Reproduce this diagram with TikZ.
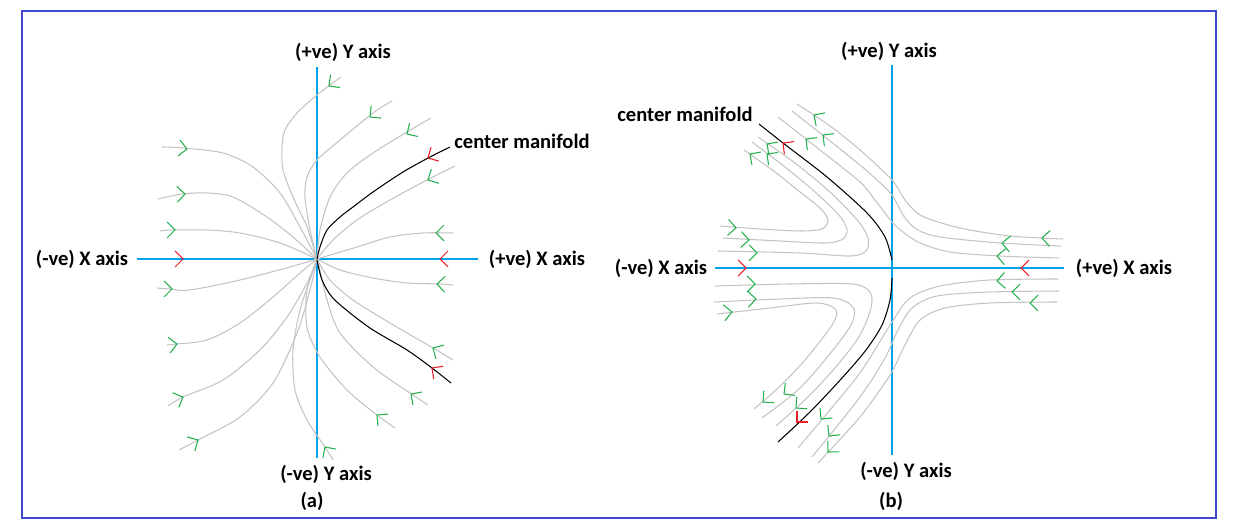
\documentclass[tikz,border=0pt]{standalone}
\usepackage{fontspec}
\setmainfont{Carlito}
\definecolor{axisblue}{RGB}{0,162,232}
\definecolor{frameblue}{RGB}{63,72,204}
\definecolor{trajgray}{RGB}{195,195,195}
\definecolor{tipgreen}{RGB}{34,177,76}
\definecolor{tipred}{RGB}{237,28,36}
\newcommand{\chev}[3][tipgreen]{\draw[#1, line width=0.6pt] (#2) ++(#3+135:6.4pt) -- (#2) -- ++(#3-135:6.4pt);}

\begin{document}
\begin{tikzpicture}[
  x=0.02cm, y=-0.02cm,
  lbl/.style={font=\bfseries\fontsize{11.7}{14}\selectfont, inner sep=0pt},
  axisline/.style={draw=axisblue, line width=0.9pt},
  traj/.style={draw=trajgray, line width=0.6pt},
  manifold/.style={draw=black, line width=0.6pt}
]
\useasboundingbox (0,0) rectangle (1234,526);
\draw[frameblue, line width=1.1pt] (22,11) rectangle (1216,518);

\node[lbl] (yposa) at (343,52) {(+ve) Y axis};
\node[lbl] (ynega) at (326,474) {(-ve) Y axis};
\node[lbl] (capa) at (312,501) {(a)};
\node[lbl] (xnega) at (82,259) {(-ve) X axis};
\node[lbl] (xposa) at (537,259) {(+ve) X axis};
\node[lbl] (cma) at (522,141) {center manifold};

\coordinate (oa) at (317,259);
\coordinate (atop) at (317,67);
\coordinate (abot) at (317,458);
\coordinate (aleft) at (137,259);
\coordinate (aright) at (478,259);
\draw[axisline] (atop) -- (abot);
\draw[axisline] (aleft) -- (aright);

\draw[traj] plot[smooth] coordinates {(341,77) (317,95) (297,113) (285,130) (282,147) (283,170) (293,197) (307,227) (317,259)};
\draw[traj] plot[smooth] coordinates {(392,101) (373,113) (340,140) (317,160) (307,177) (305,197) (310,230) (317,259)};
\draw[traj] plot[smooth] coordinates {(431,118) (407,132) (373,153) (347,173) (330,197) (320,230) (317,259)};
\draw[traj] plot[smooth] coordinates {(455,166) (427,180) (390,200) (357,220) (333,240) (317,259)};
\draw[traj] plot[smooth] coordinates {(453,233) (423,233) (390,237) (357,247) (317,259)};
\draw[traj] plot[smooth] coordinates {(453,285) (440,284) (407,283) (373,278) (340,270) (317,259)};
\draw[traj] plot[smooth] coordinates {(453,360) (433,348) (390,323) (353,300) (330,280) (317,259)};
\draw[traj] plot[smooth] coordinates {(428,405) (410,393) (373,367) (340,333) (327,300) (320,270) (317,259)};
\draw[traj] plot[smooth] coordinates {(395,428) (377,415) (347,390) (320,357) (307,327) (307,290) (317,259)};
\draw[traj] plot[smooth] coordinates {(333,460) (325,447) (307,420) (295,390) (293,350) (300,310) (310,280) (317,259)};
\draw[traj] plot[smooth] coordinates {(179,450) (198,440) (240,417) (273,383) (297,333) (310,290) (317,259)};
\draw[traj] plot[smooth] coordinates {(168,406) (183,397) (223,380) (260,350) (287,317) (307,283) (317,259)};
\draw[traj] plot[smooth] coordinates {(167,345) (177,344) (207,340) (240,323) (273,297) (300,273) (317,259)};
\draw[traj] plot[smooth] coordinates {(157,288) (170,289) (190,290) (240,280) (290,267) (317,259)};
\draw[traj] plot[smooth] coordinates {(160,231) (173,230) (207,230) (240,233) (280,243) (317,259)};
\draw[traj] plot[smooth] coordinates {(158,199) (182,194) (207,193) (233,197) (267,217) (293,237) (317,259)};
\draw[traj] plot[smooth] coordinates {(162,147) (183,148) (223,153) (253,167) (280,193) (300,227) (317,259)};
\draw[manifold] plot[smooth] coordinates {(450,147) (430,157) (403,172) (373,192) (353,207) (340,217) (327,230) (320,247) (317,259)};
\draw[manifold] plot[smooth] coordinates {(451,383) (432,368) (407,350) (373,330) (350,313) (332,297) (322,280) (317,260)};

\chev{329,86}{217} \chev{370,117}{219} \chev{407,134}{212} \chev{428,180}{208}
\chev{436,233}{180} \chev{437,284}{178} \chev{433,348}{150} \chev{411,394}{145}
\chev{377,415}{140} \chev{325,447}{124} \chev{198,440}{29} \chev{183,397}{23}
\chev{177,344}{8} \chev{172,289}{0} \chev{175,230}{0} \chev{185,194}{2} \chev{187,149}{-7}
\chev[tipred]{428,158}{209} \chev[tipred]{432,368}{144}
\chev[tipred]{183,259}{0} \chev[tipred]{440,259}{180}

\node[lbl] (yposb) at (889,51) {(+ve) Y axis};
\node[lbl] (ynegb) at (906,471) {(-ve) Y axis};
\node[lbl] (capb) at (891,501) {(b)};
\node[lbl] (xnegb) at (661,268) {(-ve) X axis};
\node[lbl] (xposb) at (1124,268) {(+ve) X axis};
\node[lbl] (cmb) at (685,114) {center manifold};

\coordinate (ob) at (892,268);
\coordinate (btop) at (892,65);
\coordinate (bbot) at (892,455);
\coordinate (bleft) at (715,268);
\coordinate (bright) at (1064,268);
\draw[axisline] (btop) -- (bbot);
\draw[axisline] (bleft) -- (bright);

\draw[traj] plot[smooth] coordinates {(720,226) (760,229) (800,231) (822,229) (828,220) (820,208) (800,192) (775,172) (744,150)};
\draw[traj] plot[smooth] coordinates {(723,238) (780,241) (825,243) (843,239) (847,229) (838,214) (815,192) (785,167) (752,142)};
\draw[traj] plot[smooth] coordinates {(718,251) (800,253) (850,256) (866,251) (868,238) (858,221) (830,192) (795,163) (758,137)};
\draw[traj] plot[smooth] coordinates {(715,286) (790,284) (852,284) (870,292) (871,308) (860,335) (840,362) (810,395) (776,426)};
\draw[traj] plot[smooth] coordinates {(714,302) (780,299) (833,298) (853,307) (852,323) (833,350) (800,388) (762,418)};
\draw[traj] plot[smooth] coordinates {(717,314) (770,308) (817,303) (836,310) (832,325) (805,360) (778,388) (754,409)};
\draw[traj] plot[smooth] coordinates {(1063,239) (1010,236) (960,228) (922,216) (905,200) (892,180) (860,150) (830,126) (797,104)};
\draw[traj] plot[smooth] coordinates {(1061,246) (1000,243) (940,237) (918,230) (905,218) (892,195) (877,180) (860,165) (825,137) (792,111)};
\draw[traj] plot[smooth] coordinates {(1059,258) (1000,256) (950,252) (920,243) (903,232) (892,222) (875,200) (860,182) (820,150) (778,117)};
\draw[traj] plot[smooth] coordinates {(1058,279) (990,280) (940,286) (910,298) (892,322) (862,370) (830,410) (798,448)};
\draw[traj] plot[smooth] coordinates {(1059,291) (990,292) (937,296) (912,308) (898,330) (885,358) (860,397) (812,457)};
\draw[traj] plot[smooth] coordinates {(1057,302) (990,303) (945,308) (920,320) (905,345) (890,375) (860,417) (818,463)};
\draw[manifold] plot[smooth] coordinates {(892,260) (885,237) (867,213) (827,177) (783,143) (759,124)};
\draw[manifold] plot[smooth] coordinates {(892,278) (890,300) (882,325) (866,350) (842,378) (810,412) (778,442)};

\chev{736,228}{-4} \chev{749,240}{-3} \chev{757,253}{-1}
\chev{750,154}{145} \chev{767,154}{143} \chev{767,144}{145}
\chev{755,284}{0} \chev{756,299}{2} \chev{732,312}{6}
\chev{763,402}{221} \chev{784,394}{218} \chev{796,408}{221}
\chev{1042,238}{177} \chev{1002,243}{174} \chev{997,256}{175}
\chev{814,115}{146} \chev{823,135}{142} \chev{806,139}{142}
\chev{997,281}{184} \chev{1012,292}{180} \chev{1030,303}{180}
\chev{821,419}{230} \chev{829,436}{231} \chev{828,452}{226}
\chev[tipred]{783,143}{142} \chev[tipred]{797,422}{225}
\chev[tipred]{746,268}{0} \chev[tipred]{1021,268}{180}
\end{tikzpicture}
\end{document}
